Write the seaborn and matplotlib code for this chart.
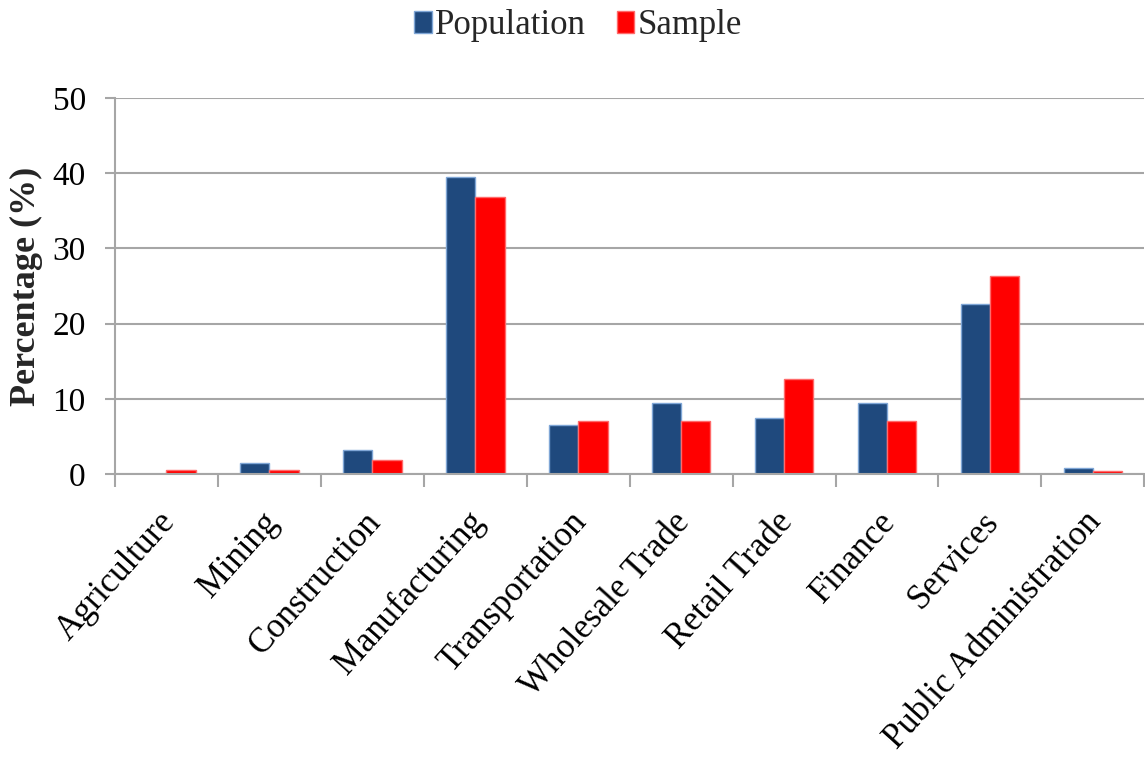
import matplotlib
matplotlib.use("Agg")
import matplotlib.pyplot as plt
import matplotlib.transforms as mtransforms
import seaborn as sns
import pandas as pd
import numpy as np
from matplotlib.patches import Patch

sectors = ["Agriculture", "Mining", "Construction", "Manufacturing", "Transportation",
           "Wholesale Trade", "Retail Trade", "Finance", "Services", "Public Administration"]
population = [0.0, 1.5, 3.2, 39.5, 6.5, 9.5, 7.5, 9.5, 22.6, 0.8]
sample = [0.6, 0.6, 1.8, 36.9, 7.1, 7.1, 12.6, 7.1, 26.3, 0.4]
series = ["Population", "Sample"]
colors = {"Population": "#1F497D", "Sample": "#FF0000"}
edges = {"Population": "#7FA6D6", "Sample": "#FF6A6A"}

df = pd.DataFrame({
    "Sector": sectors * 2,
    "Series": [series[0]] * len(sectors) + [series[1]] * len(sectors),
    "Value": population + sample,
})

sns.set_theme(style="white")
plt.rcParams["font.family"] = ["Liberation Serif", "DejaVu Serif"]

fig = plt.figure(figsize=(11.45, 7.6), dpi=100)
ax = fig.add_axes([0.1004, 0.3763, 0.899, 0.4947])

sns.barplot(data=df, x="Sector", y="Value", hue="Series", palette=colors,
            width=0.57, gap=0, ax=ax, legend=False, errorbar=None, saturation=1)

for container, name in zip(ax.containers, series):
    for bar in container:
        bar.set_edgecolor(edges[name])
        bar.set_linewidth(1.0)

ax.set_ylim(0, 50)
ax.set_xlim(-0.5, len(sectors) - 0.5)
ax.set_yticks(np.arange(0, 51, 10))
ax.yaxis.grid(True, color="#A6A6A6", linewidth=1.5)
ax.set_axisbelow(True)

for side in ["top", "right"]:
    ax.spines[side].set_visible(False)
for side in ["left", "bottom"]:
    ax.spines[side].set_color("#A6A6A6")
    ax.spines[side].set_linewidth(1.5)

ax.set_xticks(np.arange(len(sectors)))
ax.set_xticklabels(sectors, rotation=48, ha="right", rotation_mode="anchor",
                   fontsize=25, color="black")
ax.tick_params(axis="x", which="major", length=0, pad=20)
shift = mtransforms.ScaledTranslation(-9 / 100, -4 / 100, fig.dpi_scale_trans)
for lbl in ax.get_xticklabels():
    lbl.set_transform(lbl.get_transform() + shift)
ax.set_xticks(np.arange(-0.5, len(sectors), 1.0), minor=True)
ax.tick_params(axis="x", which="minor", length=9, width=1.5, color="#A6A6A6",
               direction="out", bottom=True)
ax.tick_params(axis="y", which="major", length=7, width=1.5, color="#A6A6A6",
               direction="out", left=True, labelsize=24, labelcolor="black", pad=14)

ax.set_xlabel("")
ax.set_ylabel("Percentage (%)", fontsize=26, fontweight="bold", labelpad=7)

handles = [Patch(facecolor=colors[s], edgecolor=edges[s], label=s) for s in series]
fig.legend(handles=handles, loc="upper center", bbox_to_anchor=(0.505, 1.02), ncol=2,
           frameon=False, fontsize=25, handlelength=0.5, handleheight=0.6,
           handletextpad=0.1, columnspacing=0.9, borderpad=0.2)

fig.savefig("out.png", dpi=100, facecolor="white")
